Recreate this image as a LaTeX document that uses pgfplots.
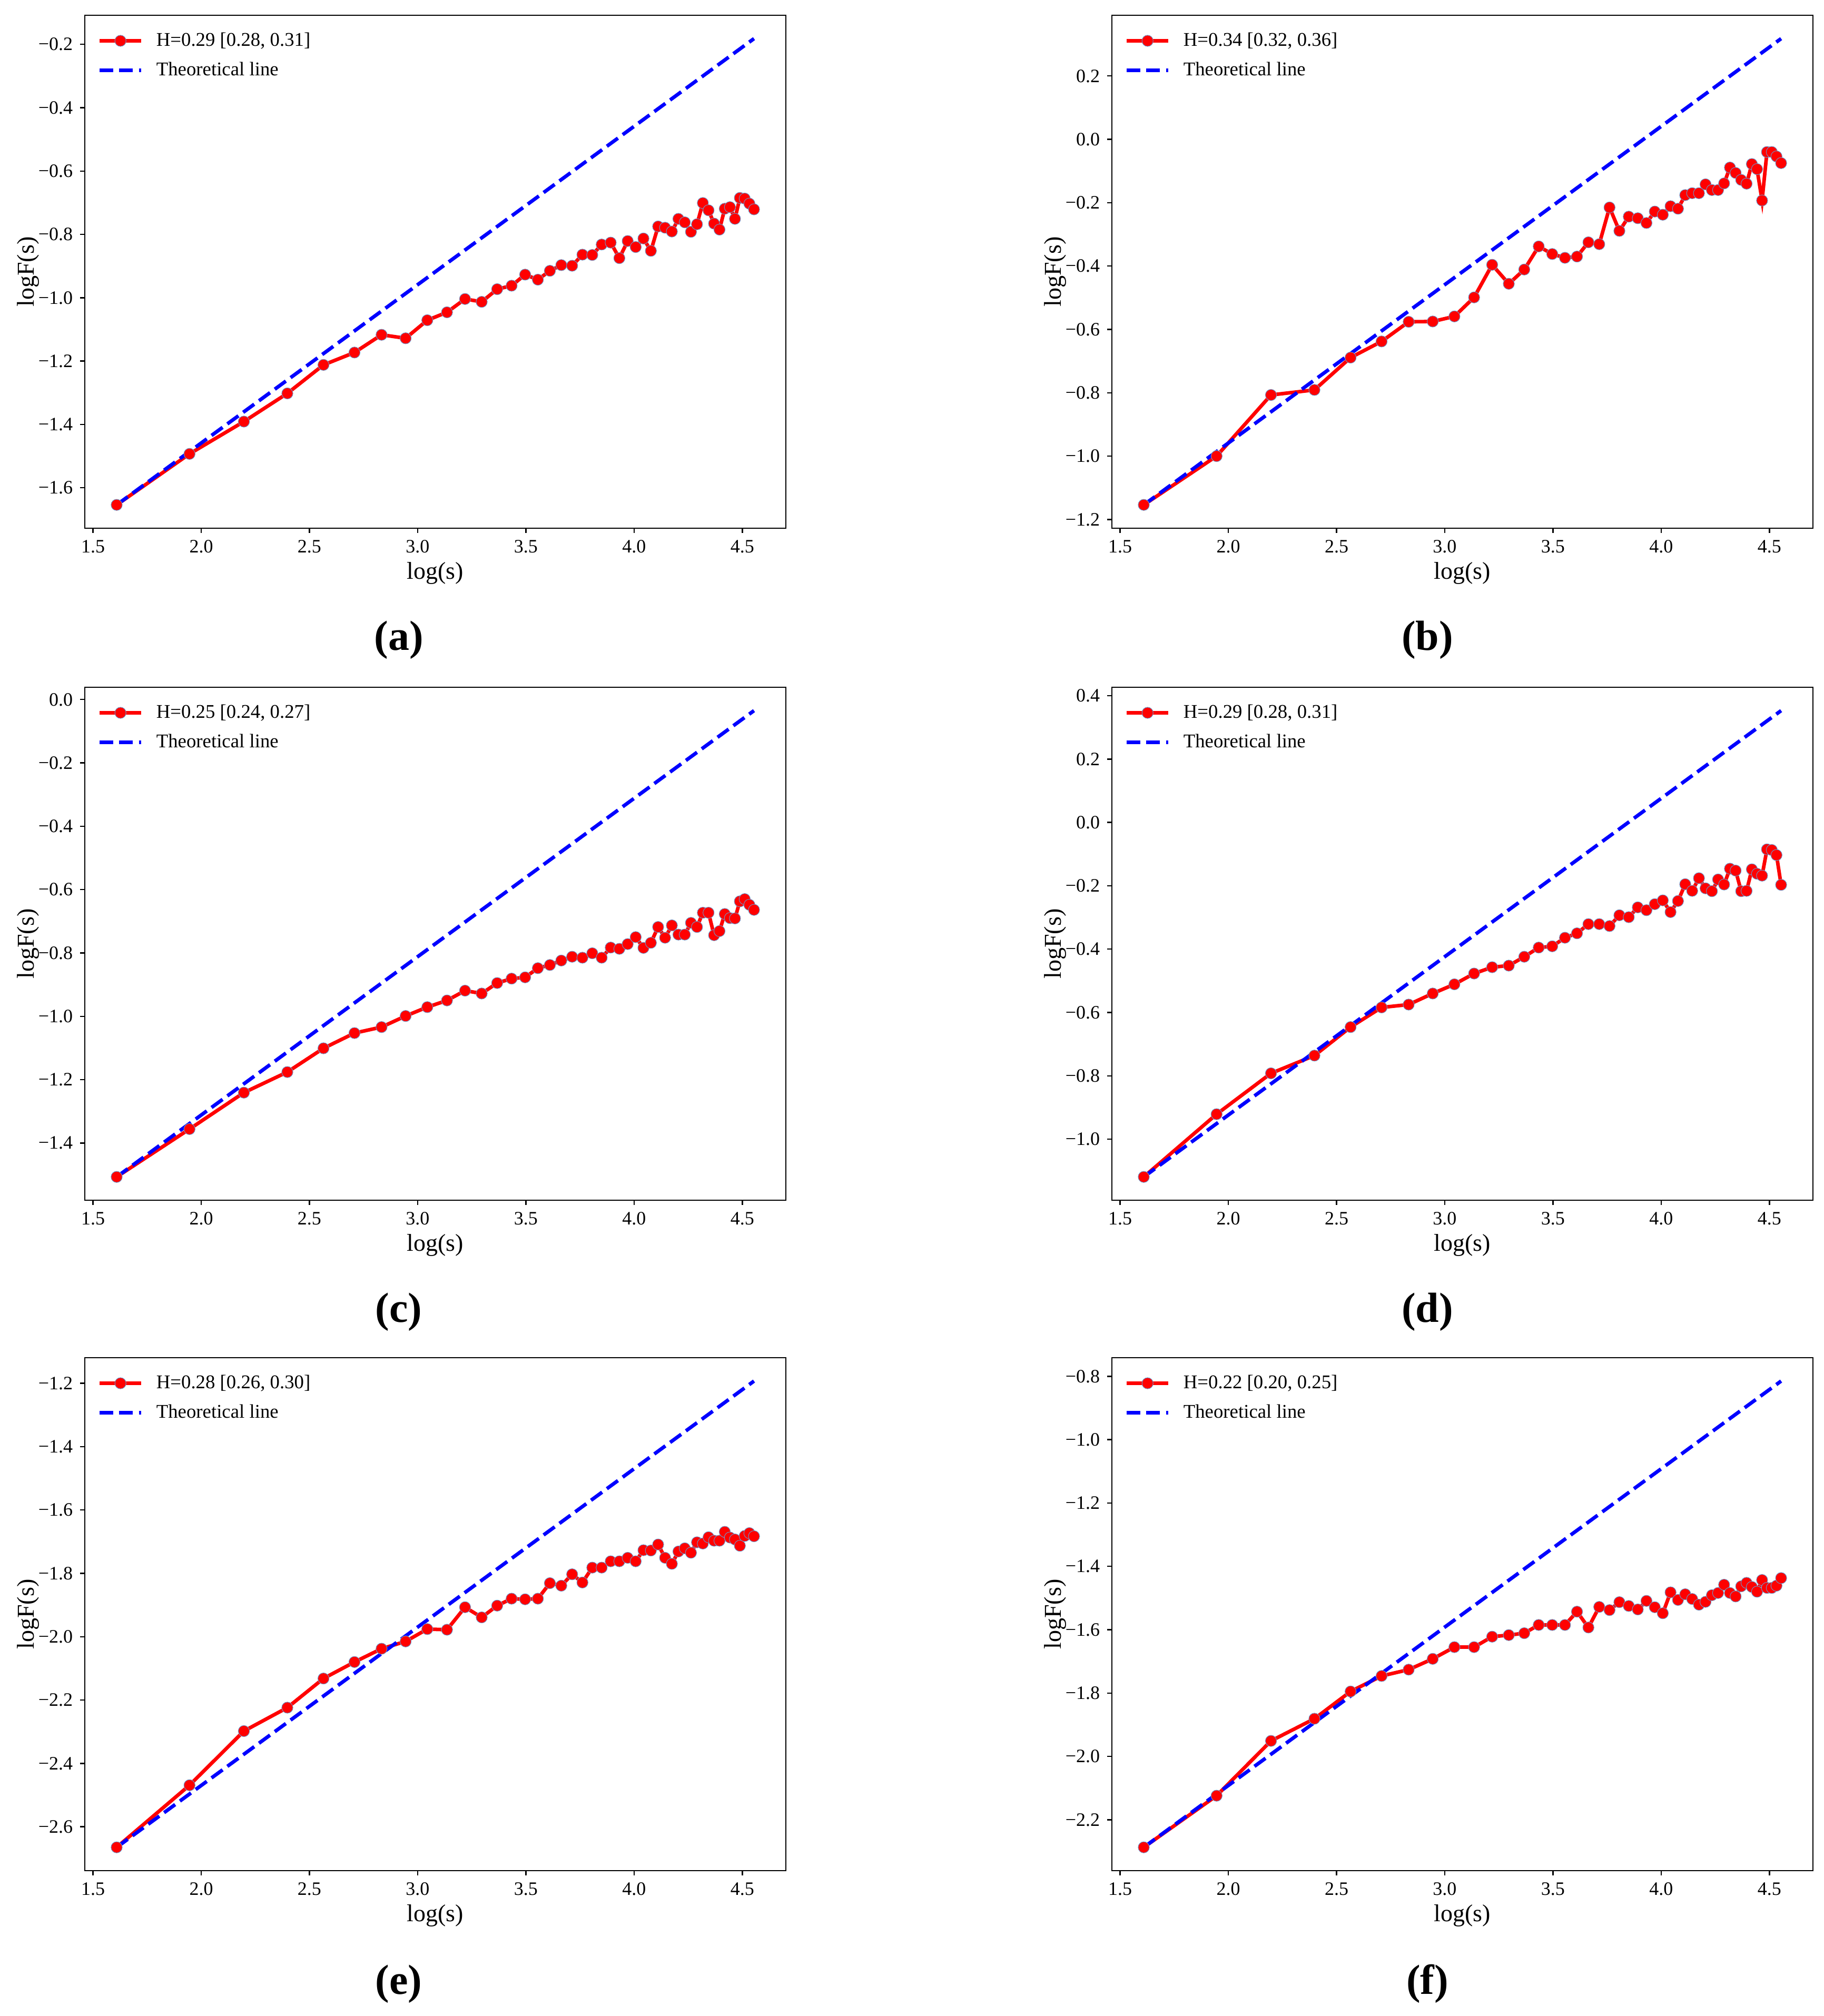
\documentclass[border=0pt]{standalone}
\usepackage{fontspec}
\setmainfont{Liberation Serif}
\usepackage{pgfplots}
\usepackage{pgfplotstable}
\pgfplotsset{compat=1.18}
\definecolor{medge}{RGB}{110,150,200}

\pgfplotstableread{
x a b c d e f
1.6094 -1.654 -1.154 -1.507 -1.119 -2.665 -2.287
1.9459 -1.493 -1.000 -1.356 -0.921 -2.469 -2.124
2.1972 -1.391 -0.807 -1.241 -0.792 -2.298 -1.951
2.3979 -1.302 -0.791 -1.176 -0.736 -2.224 -1.881
2.5649 -1.212 -0.689 -1.101 -0.646 -2.132 -1.795
2.7081 -1.173 -0.638 -1.053 -0.584 -2.080 -1.746
2.8332 -1.117 -0.576 -1.034 -0.575 -2.038 -1.726
2.9444 -1.128 -0.575 -0.999 -0.540 -2.015 -1.692
3.0445 -1.071 -0.559 -0.971 -0.511 -1.976 -1.655
3.1355 -1.046 -0.499 -0.950 -0.477 -1.978 -1.655
3.2189 -1.004 -0.396 -0.919 -0.457 -1.907 -1.622
3.2958 -1.013 -0.456 -0.928 -0.452 -1.939 -1.617
3.3673 -0.973 -0.411 -0.895 -0.424 -1.902 -1.611
3.4340 -0.962 -0.338 -0.881 -0.395 -1.880 -1.585
3.4965 -0.927 -0.362 -0.877 -0.391 -1.882 -1.585
3.5553 -0.943 -0.374 -0.848 -0.364 -1.880 -1.585
3.6109 -0.915 -0.370 -0.838 -0.350 -1.831 -1.543
3.6636 -0.897 -0.325 -0.824 -0.321 -1.839 -1.593
3.7136 -0.899 -0.331 -0.812 -0.321 -1.803 -1.528
3.7612 -0.864 -0.215 -0.815 -0.327 -1.829 -1.538
3.8067 -0.865 -0.289 -0.801 -0.293 -1.782 -1.513
3.8501 -0.832 -0.244 -0.815 -0.299 -1.782 -1.525
3.8918 -0.826 -0.249 -0.783 -0.268 -1.762 -1.536
3.9318 -0.875 -0.264 -0.787 -0.277 -1.762 -1.509
3.9703 -0.821 -0.228 -0.772 -0.258 -1.751 -1.529
4.0073 -0.840 -0.238 -0.750 -0.246 -1.762 -1.548
4.0431 -0.813 -0.211 -0.784 -0.283 -1.727 -1.482
4.0775 -0.852 -0.219 -0.768 -0.248 -1.728 -1.506
4.1109 -0.775 -0.176 -0.718 -0.195 -1.709 -1.488
4.1431 -0.779 -0.170 -0.752 -0.216 -1.751 -1.503
4.1744 -0.791 -0.170 -0.713 -0.176 -1.770 -1.521
4.2047 -0.751 -0.142 -0.742 -0.208 -1.731 -1.512
4.2341 -0.762 -0.160 -0.742 -0.217 -1.721 -1.491
4.2627 -0.792 -0.160 -0.705 -0.180 -1.735 -1.484
4.2905 -0.768 -0.139 -0.718 -0.196 -1.702 -1.458
4.3175 -0.701 -0.089 -0.673 -0.146 -1.706 -1.484
4.3438 -0.724 -0.106 -0.673 -0.152 -1.686 -1.495
4.3694 -0.766 -0.128 -0.744 -0.217 -1.697 -1.463
4.3944 -0.785 -0.140 -0.731 -0.216 -1.697 -1.452
4.4188 -0.719 -0.078 -0.677 -0.148 -1.669 -1.465
4.4427 -0.714 -0.094 -0.690 -0.162 -1.687 -1.480
4.4659 -0.751 -0.193 -0.691 -0.168 -1.693 -1.443
4.4886 -0.685 -0.040 -0.637 -0.085 -1.713 -1.468
4.5109 -0.687 -0.040 -0.630 -0.087 -1.682 -1.468
4.5326 -0.703 -0.054 -0.648 -0.103 -1.673 -1.461
4.5539 -0.721 -0.075 -0.664 -0.197 -1.683 -1.437
}\data

\pgfplotsset{
  panel/.style={
    scale only axis, width=332.75pt, height=243.5pt,
    anchor=south west,
    xmin=1.4622, xmax=4.7011,
    xtick={1.5,2,2.5,3,3.5,4,4.5},
    xticklabels={1.5,2.0,2.5,3.0,3.5,4.0,4.5},
    tick align=outside, xtick pos=bottom, ytick pos=left,
    major tick length=2.2pt,
    axis line style={line width=0.6pt},
    every tick/.style={black, line width=0.6pt},
    tick label style={font=\fontsize{9}{10}\selectfont},
    xlabel={log(s)}, ylabel={logF(s)},
    label style={font=\fontsize{11.5}{13}\selectfont},
    xlabel style={at={(axis description cs:0.5,-0.0883)}, anchor=center},
    ylabel style={at={(axis description cs:-0.0811,0.5)}, anchor=center},
    legend cell align=left,
    legend style={draw=none, fill=none, at={(axis description cs:0,1)}, anchor=north west,
      xshift=3pt, yshift=-4pt,
      font=\fontsize{9.2}{11}\selectfont, row sep=2.1pt,
      /tikz/every odd column/.append style={column sep=4.3pt}},
    legend image code/.code={\draw[mark repeat=2,mark phase=2,##1] plot coordinates {(0pt,0pt) (9.875pt,0pt) (19.75pt,0pt)};},
  },
  dat/.style={red, line width=1.7pt, mark=*, mark size=2.65pt,
    mark options={solid, fill=red, draw=medge, line width=0.25pt}},
  theo/.style={blue, line width=1.7pt, dash pattern=on 6.5pt off 2.8pt},
}

\begin{document}
\begin{tikzpicture}
\useasboundingbox (0,0) rectangle (865.5pt,957pt);

% (a)
\begin{axis}[panel, at={(40.25pt,706.25pt)}, ymin=-1.7276, ymax=-0.1082,
  ytick={-1.6,-1.4,-1.2,-1.0,-0.8,-0.6,-0.4,-0.2},
  yticklabels={−1.6,−1.4,−1.2,−1.0,−0.8,−0.6,−0.4,−0.2}]
\addplot[dat] table[x=x,y=a] {\data};
\addlegendentry{H=0.29 [0.28, 0.31]}
\addplot[theo] coordinates {(1.6094,-1.654) (4.5539,-0.182)};
\addlegendentry{Theoretical line}
\end{axis}

% (b)
\begin{axis}[panel, at={(527.75pt,706.25pt)}, ymin=-1.2276, ymax=0.3918,
  ytick={-1.2,-1.0,-0.8,-0.6,-0.4,-0.2,0,0.2},
  yticklabels={−1.2,−1.0,−0.8,−0.6,−0.4,−0.2,0.0,0.2}]
\addplot[dat] table[x=x,y=b] {\data};
\addlegendentry{H=0.34 [0.32, 0.36]}
\addplot[theo] coordinates {(1.6094,-1.154) (4.5539,0.318)};
\addlegendentry{Theoretical line}
\end{axis}

% (c)
\begin{axis}[panel, at={(40.25pt,387.25pt)}, ymin=-1.5806, ymax=0.0388,
  ytick={-1.4,-1.2,-1.0,-0.8,-0.6,-0.4,-0.2,0},
  yticklabels={−1.4,−1.2,−1.0,−0.8,−0.6,−0.4,−0.2,0.0}]
\addplot[dat] table[x=x,y=c] {\data};
\addlegendentry{H=0.25 [0.24, 0.27]}
\addplot[theo] coordinates {(1.6094,-1.507) (4.5539,-0.035)};
\addlegendentry{Theoretical line}
\end{axis}

% (d)
\begin{axis}[panel, at={(527.75pt,387.25pt)}, ymin=-1.1926, ymax=0.4268,
  ytick={-1.0,-0.8,-0.6,-0.4,-0.2,0,0.2,0.4},
  yticklabels={−1.0,−0.8,−0.6,−0.4,−0.2,0.0,0.2,0.4}]
\addplot[dat] table[x=x,y=d] {\data};
\addlegendentry{H=0.29 [0.28, 0.31]}
\addplot[theo] coordinates {(1.6094,-1.119) (4.5539,0.353)};
\addlegendentry{Theoretical line}
\end{axis}

% (e)
\begin{axis}[panel, at={(40.25pt,69pt)}, ymin=-2.7386, ymax=-1.1192,
  ytick={-2.6,-2.4,-2.2,-2.0,-1.8,-1.6,-1.4,-1.2},
  yticklabels={−2.6,−2.4,−2.2,−2.0,−1.8,−1.6,−1.4,−1.2}]
\addplot[dat] table[x=x,y=e] {\data};
\addlegendentry{H=0.28 [0.26, 0.30]}
\addplot[theo] coordinates {(1.6094,-2.665) (4.5539,-1.193)};
\addlegendentry{Theoretical line}
\end{axis}

% (f)
\begin{axis}[panel, at={(527.75pt,69pt)}, ymin=-2.3606, ymax=-0.7412,
  ytick={-2.2,-2.0,-1.8,-1.6,-1.4,-1.2,-1.0,-0.8},
  yticklabels={−2.2,−2.0,−1.8,−1.6,−1.4,−1.2,−1.0,−0.8}]
\addplot[dat] table[x=x,y=f] {\data};
\addlegendentry{H=0.22 [0.20, 0.25]}
\addplot[theo] coordinates {(1.6094,-2.287) (4.5539,-0.815)};
\addlegendentry{Theoretical line}
\end{axis}

\begin{scope}[every node/.style={font=\fontsize{20}{24}\bfseries\selectfont, inner sep=0pt}]
\node at (189.25pt,653.25pt) {(a)};
\node at (677.5pt,653.25pt) {(b)};
\node at (189.25pt,334.25pt) {(c)};
\node at (677.5pt,334.25pt) {(d)};
\node at (189.25pt,15.25pt) {(e)};
\node at (677.5pt,15.25pt) {(f)};
\end{scope}
\end{tikzpicture}
\end{document}
